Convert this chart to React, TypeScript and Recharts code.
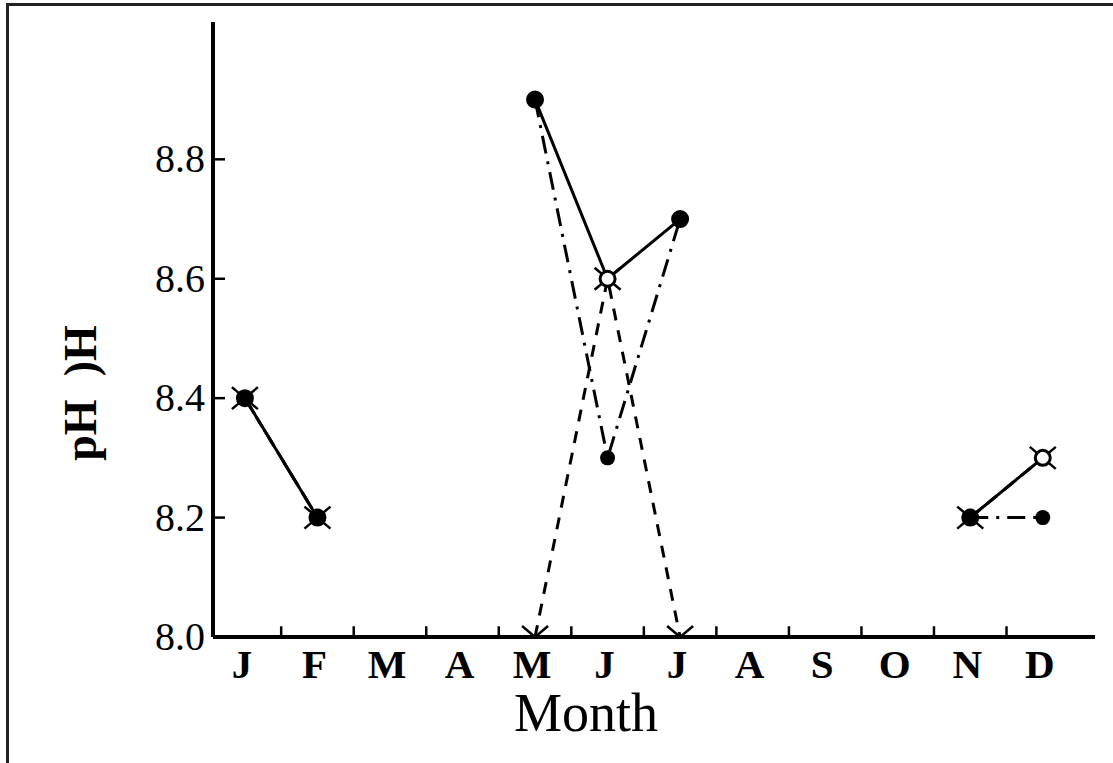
import React from "react";
import { LineChart, Line, XAxis, YAxis, ReferenceLine } from "recharts";

const months = ["J", "F", "M", "A", "M", "J", "J", "A", "S", "O", "N", "D"];
const openCircle = [8.4, 8.2, null, null, 8.9, 8.6, 8.7, null, null, null, 8.2, 8.3];
const filledCircle = [8.4, 8.2, null, null, 8.9, 8.3, 8.7, null, null, null, 8.2, 8.2];
const crossMark = [8.4, 8.2, null, null, 8.0, 8.6, 8.0, null, null, null, 8.2, 8.3];
const yTicks = [8.0, 8.2, 8.4, 8.6, 8.8];
const monthBoundaries = [0.5, 1.5, 2.5, 3.5, 4.5, 5.5, 6.5, 7.5, 8.5, 9.5, 10.5];

const rows = months.map((m, i) => ({
  idx: i,
  month: m,
  open: openCircle[i],
  filled: filledCircle[i],
  cross: crossMark[i],
}));

const FONT = "'Liberation Serif', 'Times New Roman', serif";

const XTick = ({ x, y, payload }: any) => (
  <text x={x - 3} y={y + 41} textAnchor="middle" fontFamily={FONT} fontWeight="bold" fontSize={41} fill="#000">
    {months[payload.value]}
  </text>
);

const YTick = ({ x, y, payload }: any) => (
  <g>
    <line x1={x} y1={y} x2={x + 12} y2={y} stroke="#000" strokeWidth={2.5} />
    <text x={x - 8} y={y + 13} textAnchor="end" fontFamily={FONT} fontSize={40} fill="#000">
      {Number(payload.value).toFixed(1)}
    </text>
  </g>
);

const OpenDot = ({ cx, cy, value }: any) =>
  value == null ? null : <circle cx={cx} cy={cy} r={7.5} fill="#fff" stroke="#000" strokeWidth={3} />;

const FilledDot = ({ cx, cy, value }: any) =>
  value == null ? null : <circle cx={cx} cy={cy} r={7.5} fill="#000" />;

const CrossDot = ({ cx, cy, value }: any) =>
  value == null ? null : (
    <g stroke="#000" strokeWidth={2.5}>
      <line x1={cx - 13} y1={cy - 11} x2={cx + 13} y2={cy + 11} />
      <line x1={cx - 13} y1={cy + 11} x2={cx + 13} y2={cy - 11} />
    </g>
  );

const YLabel = () => (
  <text
    x={80}
    y={393}
    transform="rotate(-90, 80, 393)"
    textAnchor="middle"
    dominantBaseline="central"
    fontFamily={FONT}
    fontWeight="bold"
    fontSize={46}
    fill="#000"
    style={{ whiteSpace: "pre" }}
  >
    {"pH  )H"}
  </text>
);

const XLabel = () => (
  <text x={586} y={731} textAnchor="middle" fontFamily={FONT} fontSize={54} fill="#000">
    Month
  </text>
);

export default function App() {
  return (
    <div style={{ position: "absolute", left: 0, top: 0, width: 1113, height: 763, background: "#fff", overflow: "hidden" }}>
      <div
        style={{
          position: "absolute",
          left: 6,
          top: 3,
          width: 1120,
          height: 780,
          borderLeft: "3px solid #222",
          borderTop: "3px solid #222",
        }}
      />
      <div style={{ position: "absolute", left: 0, top: 0 }}>
        <LineChart width={1113} height={763} data={rows} margin={{ top: 22, right: 18, left: 133, bottom: 26 }}>
          <XAxis
            type="number"
            dataKey="idx"
            domain={[-0.44, 11.72]}
            ticks={rows.map((r) => r.idx)}
            allowDataOverflow
            height={100}
            tickSize={0}
            tickMargin={0}
            tickLine={false}
            axisLine={{ stroke: "#000", strokeWidth: 4 }}
            tick={<XTick />}
            label={{ content: <XLabel /> }}
          />
          <YAxis
            type="number"
            domain={[8, 9.03]}
            ticks={yTicks}
            allowDataOverflow
            width={80}
            tickSize={0}
            tickMargin={0}
            tickLine={false}
            axisLine={{ stroke: "#000", strokeWidth: 4 }}
            tick={<YTick />}
            label={{ content: <YLabel /> }}
          />
          {monthBoundaries.map((b) => (
            <ReferenceLine
              key={b}
              segment={[{ x: b, y: 8 }, { x: b, y: 8.018 }]}
              stroke="#000"
              strokeWidth={2.5}
              ifOverflow="visible"
            />
          ))}
          <Line
            dataKey="cross"
            stroke="#000"
            strokeWidth={3}
            strokeDasharray="12 10"
            dot={<CrossDot />}
            activeDot={false}
            connectNulls={false}
            isAnimationActive={false}
          />
          <Line
            dataKey="filled"
            stroke="#000"
            strokeWidth={3}
            strokeDasharray="18 8 3 8"
            dot={false}
            activeDot={false}
            connectNulls={false}
            isAnimationActive={false}
          />
          <Line
            dataKey="open"
            stroke="#000"
            strokeWidth={3}
            dot={<OpenDot />}
            activeDot={false}
            connectNulls={false}
            isAnimationActive={false}
          />
          <Line
            dataKey="filled"
            stroke="none"
            strokeWidth={0}
            dot={<FilledDot />}
            activeDot={false}
            legendType="none"
            isAnimationActive={false}
          />
        </LineChart>
      </div>
    </div>
  );
}
